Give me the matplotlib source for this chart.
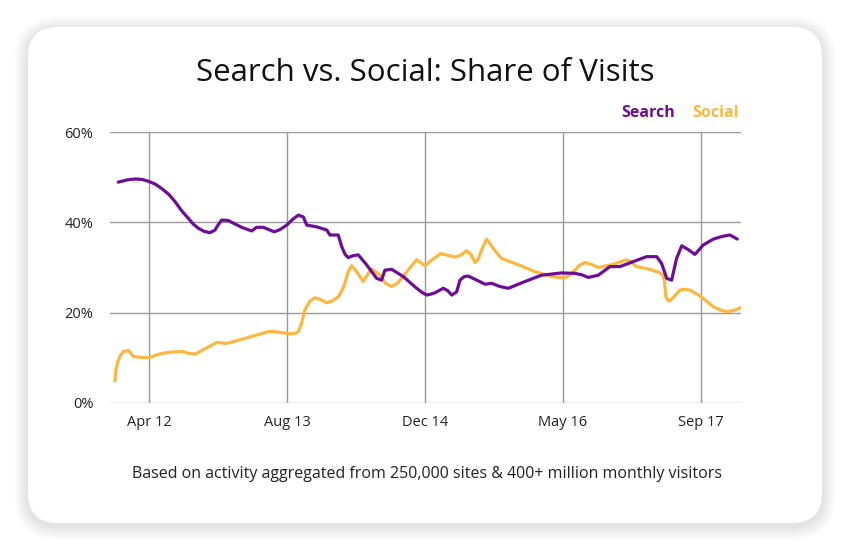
import matplotlib.pyplot as plt
from matplotlib.patches import FancyBboxPatch

# x is in weeks counted from Apr 2012, y is share of visits in %
search_weeks = [-15.6, -11, -7.1, -3.5, -0.4, 3, 6.4, 10, 13.2, 16.5, 19.9, 22.5, 25, 28, 30.9, 33.5, 35,
                36.9, 40.2, 47, 52.1, 54.6, 58, 63.5, 66.5, 69.9, 73, 75.8, 78.3, 80, 85.1, 90.2, 91.8,
                96, 97.8, 99.5, 101.1, 103.5, 106.2, 110.4, 115.5, 118, 119.7, 123.1, 129, 135.8,
                138.5, 140.9, 143, 145.1, 149.3, 151.5, 153.6, 156.1, 157.8, 160, 162, 166.3,
                170.5, 173.9, 178, 182.3, 190.8, 199.2, 209.4, 216.1, 219.5, 222.9, 228, 231.4, 233.9,
                239, 245.7, 252.5, 257.6, 260.1, 262.7, 265.2, 267.7, 270.3, 273.5, 277, 281.3, 286.4,
                291, 294.8, 298.5]
search_pct = [48.9, 49.4, 49.6, 49.5, 49.1, 48.5, 47.5, 46.2, 44.6, 42.6, 40.9, 39.6, 38.7, 38.0, 37.7,
              38.3, 39.4, 40.5, 40.4, 38.9, 38.1, 38.9, 38.9, 37.9, 38.4, 39.4, 40.7, 41.6, 41.2,
              39.4, 39.0, 38.3, 37.2, 37.2, 34.6, 32.9, 32.2, 32.6, 32.8, 30.6, 27.6, 27.2, 29.4,
              29.6, 28.0, 25.4, 24.5, 23.9, 24.1, 24.4, 25.4, 24.9, 23.9, 24.6, 27.2, 28.0, 28.1,
              27.2, 26.3, 26.5, 25.8, 25.4, 26.9, 28.3, 28.8, 28.7, 28.4, 27.8, 28.3, 29.4, 30.2,
              30.2, 31.3, 32.4, 32.4, 30.9, 27.6, 27.2, 32.0, 34.8, 34.0, 32.9, 35.0, 36.3, 36.9,
              37.2, 36.3]

social_weeks = [-17.3, -16.8, -15.6, -14.3, -13, -10.5, -9.2, -8, -4, -0.4, 3, 6.4, 12, 17.4, 20,
                23.3, 28.4, 34.3, 39.4, 48.7, 55, 60.5, 63.9, 71.5, 74, 75.8, 77.3, 79.1, 81.5, 84.2,
                87, 90.2, 93, 96, 97.8, 99.4, 101, 102.8, 105.5, 108.7, 111, 113, 117.2, 120, 123.1,
                126, 129, 132.5, 135.8, 140, 144, 148, 155.2, 158, 161.2, 163.5, 165.4, 167, 168.8,
                171.3, 174.7, 178.9, 187.4, 195.8, 204.3, 208, 211.1, 213.5, 216.1, 218.5, 221.2,
                224.5, 228, 235.5, 242.3, 244.5, 247.4, 254.2, 259.3, 260.8, 261.5, 262.3, 263.2,
                264.3, 266.5, 269.4, 272, 274.5, 279.6, 286.4, 290, 293.1, 297, 300.2]
social_pct = [4.9, 7.5, 9.5, 10.7, 11.4, 11.6, 11.0, 10.3, 10.1, 10.0, 10.5, 11.0, 11.3, 11.4, 11.0,
              10.8, 12.0, 13.4, 13.2, 14.3, 15.1, 15.8, 15.8, 15.3, 15.4, 15.8, 17.5, 20.6, 22.5,
              23.3, 22.9, 22.2, 22.6, 23.5, 24.8, 26.5, 29.0, 30.4, 29.0, 26.9, 28.5, 29.7, 28.3,
              26.5, 25.8, 26.5, 28.0, 30.0, 31.7, 30.4, 31.8, 33.1, 32.3, 32.7, 33.7, 32.8, 31.1,
              31.8, 33.9, 36.3, 34.2, 32.0, 30.6, 29.1, 28.0, 27.8, 27.7, 28.3, 29.4, 30.5, 31.1,
              30.7, 30.0, 30.7, 31.7, 31.3, 30.2, 29.6, 28.8, 28.3, 27.2, 23.5, 22.8, 22.6, 23.6,
              25.0, 25.2, 25.0, 23.7, 21.3, 20.6, 20.2, 20.5, 21.1]

tick_weeks = [0, 70, 140, 210, 280]
tick_labels = ['Apr 12', 'Aug 13', 'Dec 14', 'May 16', 'Sep 17']
y_ticks = [0, 20, 40, 60]

PURPLE = '#6c0e96'
ORANGE = '#fdb740'
GRID = '#999999'
TEXT = '#222222'

plt.rcParams['font.family'] = ['Open Sans', 'DejaVu Sans']

fig = plt.figure(figsize=(8.5, 5.5), dpi=100)
fig.patch.set_facecolor('white')

# card with soft shadow, drawn in pixel coordinates
bg = fig.add_axes([0, 0, 1, 1], zorder=0)
bg.set_xlim(0, 850)
bg.set_ylim(550, 0)
bg.axis('off')
for i in range(14, 0, -1):
    bg.add_patch(FancyBboxPatch((28 - i, 30 - i), 794 + 2 * i, 496 + 2 * i,
                                boxstyle='round,pad=0,rounding_size=%d' % (30 + i),
                                facecolor='black', edgecolor='none', alpha=0.007))
bg.add_patch(FancyBboxPatch((28, 27), 794, 496, boxstyle='round,pad=0,rounding_size=30',
                            facecolor='white', edgecolor='none'))

bg.text(425, 73, 'Search vs. Social: Share of Visits', ha='center', va='center',
        fontsize=22.5, color='#111111')
bg.text(675, 113, 'Search', ha='right', va='center', fontsize=11.5, fontweight='bold', color=PURPLE)
bg.text(739, 113, 'Social', ha='right', va='center', fontsize=11.5, fontweight='bold', color=ORANGE)
bg.text(427, 474, 'Based on activity aggregated from 250,000 sites & 400+ million monthly visitors',
        ha='center', va='center', fontsize=11.5, color=TEXT)

ax = fig.add_axes([110 / 850, 1 - 403 / 550, 631 / 850, 271 / 550], zorder=1)
ax.patch.set_alpha(0)
ax.plot(search_weeks, search_pct, color=PURPLE, lw=2.3, solid_joinstyle='round',
        solid_capstyle='round', zorder=3)
ax.plot(social_weeks, social_pct, color=ORANGE, lw=2.3, solid_joinstyle='round',
        solid_capstyle='round', zorder=2)

ax.set_xlim(-19.8, 300.4)
ax.set_ylim(0, 60)
ax.set_xticks(tick_weeks)
ax.set_xticklabels(tick_labels)
ax.set_yticks(y_ticks)
ax.set_yticklabels(['%d%%' % v for v in y_ticks])
ax.grid(True, color=GRID, lw=1)
ax.set_axisbelow(True)
for s in ax.spines.values():
    s.set_visible(False)
ax.tick_params(length=0, labelsize=10.5, colors=TEXT)
ax.tick_params(axis='x', pad=9)
ax.tick_params(axis='y', pad=12)

fig.savefig('out.png', dpi=100, facecolor='white')
